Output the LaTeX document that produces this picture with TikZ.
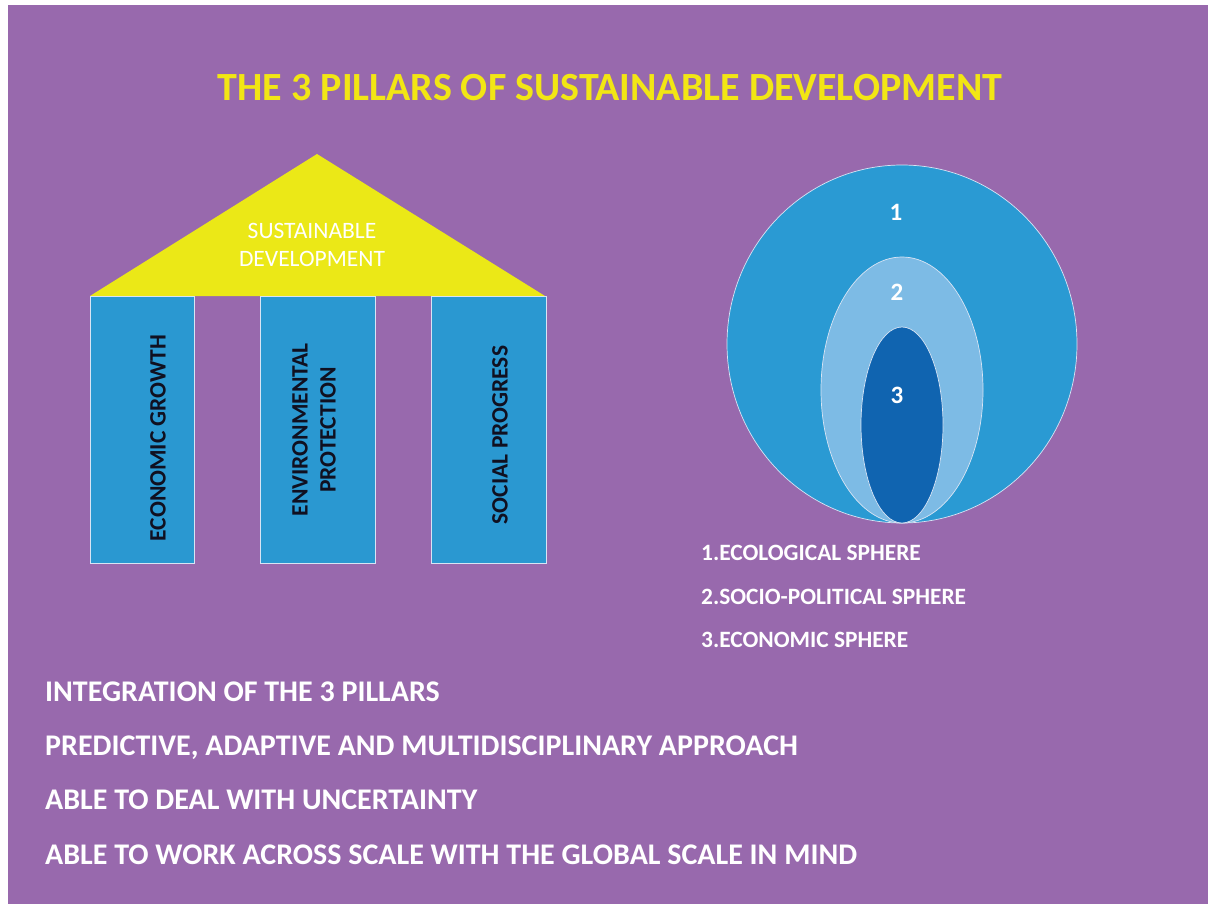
\documentclass[tikz,border=0pt]{standalone}
\usepackage{fontspec}
\setmainfont{Carlito}
\definecolor{bgpurple}{HTML}{9869AD}
\definecolor{roofyellow}{HTML}{EBE817}
\definecolor{titleyellow}{HTML}{F2E614}
\definecolor{pillarblue}{HTML}{2A98D1}
\definecolor{outerblue}{HTML}{2A9AD3}
\definecolor{midblue}{HTML}{7DBBE5}
\definecolor{innerblue}{HTML}{1064B0}
\definecolor{edgewhite}{HTML}{D8E4F4}
\definecolor{pillartext}{HTML}{101020}
\begin{document}
\begin{tikzpicture}[x=1pt,y=-1pt,
  pillarbox/.style={fill=pillarblue,draw=edgewhite,line width=0.8pt},
  pillartxt/.style={rotate=90,text=pillartext,font=\fontsize{23.5}{28}\selectfont\bfseries,align=center},
  roofTxt/.style={text=white,font=\fontsize{23.5}{28}\selectfont,align=center},
  numtxt/.style={text=white,font=\fontsize{25}{28}\selectfont\bfseries},
  legendtxt/.style={text=white,font=\fontsize{23.4}{26}\selectfont\bfseries,anchor=base west,inner sep=0pt},
  bottomtxt/.style={text=white,font=\fontsize{30}{32}\selectfont\bfseries,anchor=base west,inner sep=0pt},
  sphere/.style={draw=edgewhite,line width=0.7pt}]
\useasboundingbox (0,0) rectangle (1209,904);
\fill[white] (0,0) rectangle (1209,904);
\fill[bgpurple] (8,5) rectangle (1208,904);
% title
\node[text=titleyellow,font=\fontsize{40}{44}\selectfont\bfseries,anchor=base] (title) at (610,101) {THE 3 PILLARS OF SUSTAINABLE DEVELOPMENT};
% roof
\fill[roofyellow] (317,154) -- (545,296) -- (90,296) -- cycle;
\node[roofTxt] (roof) at (312,245) {SUSTAINABLE\\DEVELOPMENT};
% pillars
\draw[pillarbox] (90,296) rectangle (194,563);
\draw[pillarbox] (260,296) rectangle (375,563);
\draw[pillarbox] (431,296) rectangle (546,563);
\node[pillartxt] (p1) at (158,438) {ECONOMIC GROWTH};
\node[pillartxt] (p2) at (314,430) {ENVIRONMENTAL\\PROTECTION};
\node[pillartxt] (p3) at (500,435) {SOCIAL PROGRESS};
% spheres
\draw[sphere,fill=outerblue] (902,344) ellipse [x radius=175, y radius=179];
\draw[sphere,fill=midblue] (902,390) ellipse [x radius=81, y radius=133];
\draw[sphere,fill=innerblue] (902,425) ellipse [x radius=41, y radius=98];
\node[numtxt] (n1) at (896,212) {1};
\node[numtxt] (n2) at (897,292) {2};
\node[numtxt] (n3) at (897,395) {3};
% legend
\node[legendtxt] (l1) at (701,560) {1.ECOLOGICAL SPHERE};
\node[legendtxt] (l2) at (701,604) {2.SOCIO-POLITICAL SPHERE};
\node[legendtxt] (l3) at (701,647) {3.ECONOMIC SPHERE};
% bottom lines
\node[bottomtxt] (b1) at (45,701) {INTEGRATION OF THE 3 PILLARS};
\node[bottomtxt] (b2) at (45,755) {PREDICTIVE, ADAPTIVE AND MULTIDISCIPLINARY APPROACH};
\node[bottomtxt] (b3) at (45,809) {ABLE TO DEAL WITH UNCERTAINTY};
\node[bottomtxt] (b4) at (45,864) {ABLE TO WORK ACROSS SCALE WITH THE GLOBAL SCALE IN MIND};
\end{tikzpicture}
\end{document}
